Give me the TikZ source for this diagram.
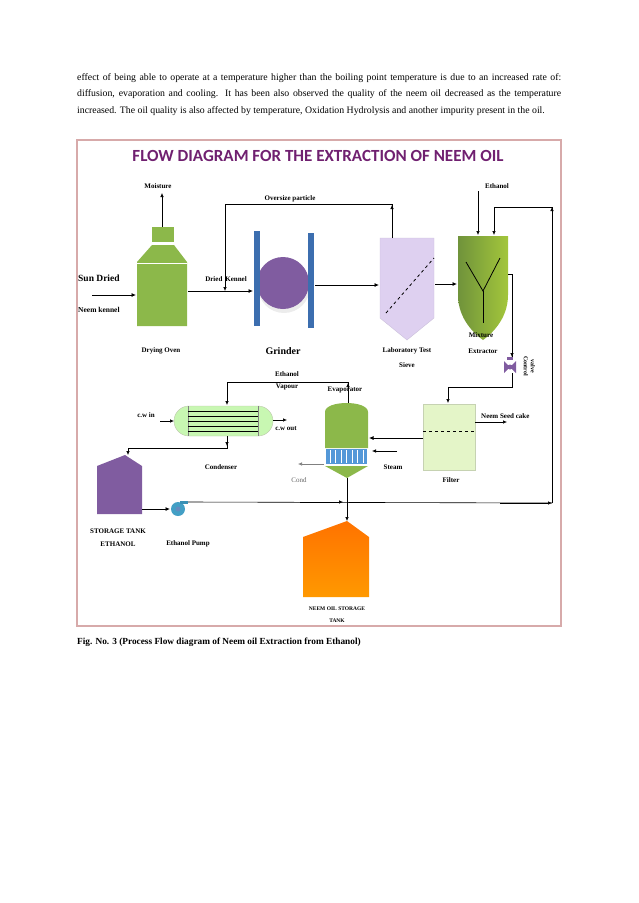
\documentclass[tikz,border=0pt]{standalone}
\usepackage{fontspec}
\setmainfont{Liberation Serif}
\newfontfamily\titlefont{Carlito}
\usetikzlibrary{arrows.meta,shapes.geometric}
\begin{document}
\begin{tikzpicture}[x=1pt,y=-1pt,
  lab/.style={font=\fontsize{7}{8}\selectfont\bfseries, inner sep=0pt},
  flow/.style={thick,-{Latex[length=4.5pt,width=4pt]}},
  thin flow/.style={semithick,-{Latex[length=4pt,width=3.5pt]}},
  plain/.style={semithick}]
\useasboundingbox (0,0) rectangle (638,903);
\definecolor{ovgreen}{RGB}{140,184,74}
\definecolor{grpurp}{RGB}{128,92,160}
\definecolor{barblue}{RGB}{60,110,175}
\definecolor{lav}{RGB}{222,208,240}
\definecolor{filt}{RGB}{228,245,200}
\definecolor{tpurp}{RGB}{112,32,112}
\definecolor{frame}{RGB}{215,170,170}
% paragraph
\node[anchor=north west, inner sep=0pt, text width=484pt, align=justify,
  font=\fontsize{9.8}{16.6}\selectfont] (para) at (77,73)
{effect of being able to operate at a temperature higher than the boiling point temperature is due to an increased rate of: diffusion, evaporation and cooling. It has been also observed the quality of the neem oil decreased as the temperature increased. The oil quality is also affected by temperature, Oxidation Hydrolysis and another impurity present in the oil.};
% frame
\draw[frame, line width=1.2pt] (77,140) rectangle (561,626);
\node[font=\titlefont\fontsize{17}{18}\selectfont\bfseries, text=tpurp] (title) at (318,156) {FLOW DIAGRAM FOR THE EXTRACTION OF NEEM OIL};
% drying oven
\fill[ovgreen] (137,262) -- (152,245) -- (174,245) -- (187,262) -- (187,326) -- (137,326) -- cycle;
\draw[white, line width=1pt] (137,263) -- (187,263);
\fill[ovgreen] (152,227) rectangle (174,242);
\coordinate (ovtop) at (162,227);
\node[lab] (moist) at (158,186) {Moisture};
\draw[thin flow] (ovtop) -- (162,193);
\node[lab] (oven) at (161,351) {Drying Oven};
\node[font=\fontsize{9.5}{10}\selectfont\bfseries, anchor=west, inner sep=0pt] (sun) at (78,278) {Sun Dried};
\node[font=\fontsize{7.5}{8}\selectfont\bfseries, anchor=west, inner sep=0pt] (kennel) at (78,310) {Neem kennel};
\coordinate (in0) at (92,295);
\draw[flow] (in0) -- (136,295);
% grinder
\fill[white!85!gray] (284,287) circle (26);
\fill[grpurp] (283,283) circle (26);
\fill[barblue] (254,231) rectangle (260,326);
\fill[barblue] (308,233) rectangle (314,328);
\node[font=\fontsize{10}{11}\selectfont\bfseries] (grind) at (283,351) {Grinder};
\draw[flow] (188,291) -- (253,291);
\node[lab] (dk) at (226,279) {Dried\, Kennel};
% sieve
\fill[lav] (380,238) -- (434,238) -- (434,318) -- (407,340) -- (380,318) -- cycle;
\draw[lav!80!gray] (380,238) -- (434,238) -- (434,318) -- (407,340) -- (380,318) -- cycle;
\draw[thick, dashed] (386,313) -- (434,258);
\node[lab] (sv1) at (407,351) {Laboratory Test};
\node[lab] (sv2) at (407,365) {Sieve};
\draw[flow] (315,285) -- (379,285);
% oversize
\draw[plain] (392,238) -- (392,204) -- (225,204);
\draw[thin flow] (392,220) -- (392,205);
\draw[thin flow] (225,204) -- (225,291);
\node[lab] (over) at (290,199) {Oversize particle};
% extractor
\shade[left color=ovgreen!80!black, right color=ovgreen!80!yellow]
  (458,236) -- (508,236) -- (508,295) .. controls (508,320) and (490,335) .. (483,340) .. controls (476,335) and (458,320) .. (458,295) -- cycle;
\draw[thick] (466,262) -- (483,291) -- (500,258);
\draw[thick] (483,291) -- (483,323);
\node[lab] (mx1) at (481,335) {Mixture};
\node[lab] (mx2) at (483,351) {Extractor};
\draw[flow] (435,284) -- (457,284);
\node[lab] (eth) at (497,186) {Ethanol};
\draw[thin flow] (478,191) -- (478,235);
% valve
\coordinate (valve) at (510,367);
\fill[grpurp] (504,361) -- (516,373) -- (516,361) -- (504,373) -- cycle;
\fill[grpurp] (510,367) circle (2.5);
\fill[grpurp] (507,360) rectangle (513,357);
\draw[plain] (508,274) -- (512,274) -- (512,357);
\draw[thin flow] (512,345) -- (512,357);
\node[lab, rotate=-90, font=\fontsize{6}{7}\selectfont\bfseries] (cv1) at (526,366) {Control};
\node[lab, rotate=-90, font=\fontsize{6}{7}\selectfont\bfseries] (cv2) at (533,366) {valve};
\draw[plain] (512,373) -- (512,387) -- (448,387);
\draw[thin flow] (448,387) -- (448,403);
% filter
\fill[filt] (423,404) rectangle (475,470);
\draw[filt!70!gray] (423,404) rectangle (475,470);
\draw[thick, dashed] (423,431) -- (475,431);
\node[lab] (fil) at (451,480) {Filter};
\draw[thin flow] (475,422) -- (507,422);
\node[lab, anchor=west] (cake) at (481,416) {Neem Seed cake};
% evaporator
\fill[ovgreen] (325,448) -- (325,412) .. controls (325,400) and (368,400) .. (368,412) -- (368,448) -- cycle;
\fill[cyan!60!blue!70] (326,449) rectangle (367,464);
\foreach \i in {0,...,6} \draw[white, line width=0.6pt] (330+\i*5.5,450) -- (330+\i*5.5,463);
\fill[ovgreen] (325,466) -- (368,466) -- (347,478) -- cycle;
\node[lab] (evl) at (345,390) {Evaporator};
\draw[flow] (423,438) -- (369,438);
\draw[thin flow] (397,451) -- (372,451);
\node[lab] (steam) at (393,467) {Steam};
\draw[thin flow, gray] (324,464) -- (298,464);
\node[inner sep=0pt, text=gray!80!black, font=\fontsize{7}{8}\selectfont] (cond) at (299,480) {Cond};
% vapour line
\draw[plain] (348,403) -- (348,382) -- (227,382);
\draw[thin flow] (227,382) -- (227,405);
\draw[thin flow] (348,392) -- (348,383);
\node[lab] (ev1) at (287,374) {Ethanol};
\node[lab] (ev2) at (287,387) {Vapour};
% condenser
\draw[filt!60!gray, fill=filt!85!green!90, rounded corners=15pt] (174,406) rectangle (273,436);
\draw[gray] (188,406) -- (188,436) (258,406) -- (258,436);
\foreach \y in {411,416,421,426,431} \draw[black] (188,\y) -- (258,\y);
\node[lab] (cwin) at (146,415) {c.w in};
\draw[thin flow] (160,421) -- (174,421);
\draw[thin flow] (273,420) -- (287,420);
\node[lab] (cwout) at (286,429) {c.w out};
\node[lab] (cnd) at (221,467) {Condenser};
\draw[plain] (227,436) -- (227,448) -- (128,448);
\draw[thin flow] (227,436) -- (227,446);
\draw[thin flow] (128,448) -- (128,455);
% storage tank ethanol
\fill[grpurp] (97,466) -- (125,455) -- (142,466) -- (142,514) -- (97,514) -- cycle;
\node[lab] (st1) at (118,531) {STORAGE TANK};
\node[lab] (st2) at (118,544) {ETHANOL};
% pump
\fill[cyan!50!teal] (173,514) -- (175,506) -- (181,506) -- (183,514) -- cycle;
\fill[cyan!50!teal!90] (178,509) circle (7);
\fill[cyan!40!teal] (180,501) rectangle (188,504);
\fill[barblue!80] (178,509) circle (2.5);
\draw[flow] (142,509) -- (170,509);
\node[lab] (pl) at (188,544) {Ethanol Pump};
\draw[plain] (188,502) -- (552,503);
\draw[thin flow] (300,502) -- (343,502);
\draw[thin flow] (500,503) -- (552,503);
% recycle
\draw[plain] (552,503) -- (552,207) -- (494,207);
\draw[thin flow] (552,220) -- (552,207);
\draw[thin flow] (494,207) -- (494,235);
% neem oil tank
\draw[plain] (347,478) -- (347,500);
\draw[thin flow] (347,500) -- (347,521);
\shade[top color=orange!90!red, bottom color=orange!80!yellow] (303,537) -- (347,521) -- (369,537) -- (369,597) -- (303,597) -- cycle;
\node[lab, font=\fontsize{5.5}{6}\selectfont\bfseries] (no1) at (337,609) {NEEM OIL STORAGE};
\node[lab, font=\fontsize{5.5}{6}\selectfont\bfseries] (no2) at (337,621) {TANK};
% caption
\node[anchor=west, inner sep=0pt, font=\fontsize{9.3}{10}\selectfont\bfseries] (cap) at (77,642) {Fig. No. 3 (Process Flow diagram of Neem oil Extraction from Ethanol)};
\end{tikzpicture}
\end{document}
